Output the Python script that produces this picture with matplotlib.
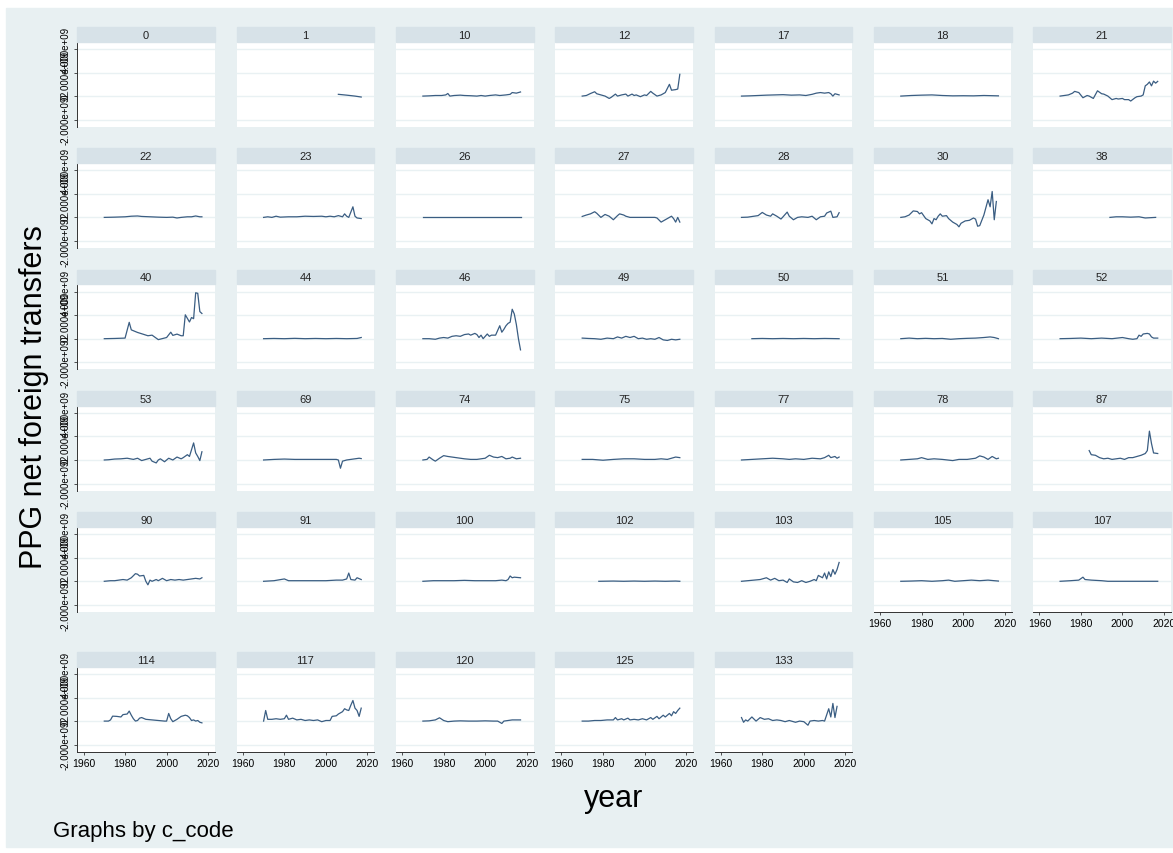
import numpy as np
import matplotlib
matplotlib.use('Agg')
import matplotlib.pyplot as plt
from matplotlib.patches import Rectangle

plt.rcParams['font.family'] = ['Liberation Sans', 'DejaVu Sans']

# panel order (c_code), 7 panels per row
codes = [0, 1, 10, 12, 17, 18, 21,
         22, 23, 26, 27, 28, 30, 38,
         40, 44, 46, 49, 50, 51, 52,
         53, 69, 74, 75, 77, 78, 87,
         90, 91, 100, 102, 103, 105, 107,
         114, 117, 120, 125, 133]

# PPG net foreign transfers, billions (years / values)
yr_0 = []
v_0 = []
yr_1 = [2006, 2010, 2014, 2017]
v_1 = [0.15, 0.08, 0.0, -0.08]
yr_10 = [1970, 1973, 1976, 1979, 1981, 1982, 1983, 1985, 1988, 1990, 1993, 1996, 1998, 2000, 2002, 2005, 2007, 2010, 2012, 2013, 2015, 2016, 2017]
v_10 = [0.0, 0.02, 0.05, 0.05, 0.1, 0.22, 0.0, 0.05, 0.08, 0.05, 0.03, 0.0, 0.05, 0.0, 0.05, 0.1, 0.05, 0.1, 0.15, 0.3, 0.25, 0.3, 0.35]
yr_12 = [1970, 1972, 1974, 1976, 1977, 1979, 1981, 1983, 1984, 1986, 1987, 1989, 1991, 1992, 1994, 1995, 1996, 1998, 2000, 2001, 2003, 2004, 2006, 2008, 2010, 2012, 2013, 2015, 2016, 2017]
v_12 = [0.0, 0.05, 0.22, 0.37, 0.2, 0.1, 0.0, -0.2, -0.1, 0.17, 0.0, 0.1, 0.17, 0.0, 0.17, 0.05, 0.1, -0.05, 0.1, 0.05, 0.4, 0.25, 0.0, 0.1, 0.3, 1.0, 0.5, 0.55, 0.6, 1.85]
yr_17 = [1970, 1974, 1978, 1982, 1986, 1990, 1994, 1998, 2001, 2004, 2006, 2008, 2010, 2012, 2013, 2014, 2015, 2017]
v_17 = [0.0, 0.02, 0.05, 0.08, 0.1, 0.12, 0.08, 0.1, 0.05, 0.15, 0.25, 0.3, 0.25, 0.3, 0.2, 0.0, 0.2, 0.1]
yr_18 = [1970, 1975, 1980, 1985, 1990, 1995, 2000, 2005, 2010, 2017]
v_18 = [0.0, 0.05, 0.08, 0.1, 0.05, 0.02, 0.03, 0.02, 0.05, 0.02]
yr_21 = [1970, 1972, 1974, 1976, 1977, 1979, 1981, 1983, 1984, 1986, 1988, 1990, 1991, 1993, 1995, 1997, 1998, 2000, 2001, 2003, 2004, 2006, 2007, 2009, 2010, 2011, 2012, 2013, 2014, 2015, 2016, 2017]
v_21 = [0.0, 0.05, 0.1, 0.25, 0.4, 0.3, -0.14, 0.05, 0.0, -0.2, 0.45, 0.2, 0.17, 0.0, -0.3, -0.2, -0.25, -0.2, -0.3, -0.3, -0.42, -0.15, -0.05, 0.0, 0.1, 0.87, 1.0, 1.2, 0.87, 1.27, 1.1, 1.25]

yr_22 = [1970, 1975, 1980, 1983, 1986, 1988, 1992, 1996, 2000, 2003, 2005, 2007, 2010, 2012, 2014, 2016, 2017]
v_22 = [0.0, 0.02, 0.05, 0.1, 0.12, 0.08, 0.05, 0.02, 0.0, 0.02, -0.05, 0.0, 0.05, 0.05, 0.12, 0.05, 0.05]
yr_23 = [1970, 1972, 1974, 1976, 1978, 1982, 1986, 1990, 1994, 1998, 2000, 2002, 2004, 2006, 2008, 2009, 2010, 2011, 2013, 2014, 2015, 2017]
v_23 = [0.0, 0.05, 0.0, 0.1, 0.02, 0.05, 0.05, 0.1, 0.08, 0.1, 0.05, 0.1, 0.05, 0.15, 0.05, 0.3, 0.1, 0.0, 0.9, 0.1, -0.05, -0.1]
yr_26 = [1970, 1980, 1990, 2000, 2010, 2017]
v_26 = [0.0, 0.0, 0.0, 0.0, 0.0, 0.0]
yr_27 = [1970, 1972, 1974, 1976, 1977, 1979, 1981, 1983, 1985, 1987, 1988, 1990, 1991, 1993, 1997, 2001, 2005, 2006, 2008, 2009, 2011, 2013, 2014, 2015, 2016, 2017]
v_27 = [0.08, 0.2, 0.3, 0.48, 0.35, 0.0, 0.25, 0.1, -0.2, 0.15, 0.3, 0.2, 0.1, 0.0, 0.0, 0.0, 0.0, -0.05, -0.4, -0.3, -0.1, 0.1, -0.1, -0.4, 0.0, -0.4]
yr_28 = [1970, 1973, 1976, 1978, 1980, 1982, 1984, 1985, 1987, 1989, 1990, 1992, 1993, 1995, 1997, 1999, 2002, 2004, 2006, 2008, 2010, 2011, 2013, 2014, 2016, 2017]
v_28 = [0.0, 0.02, 0.1, 0.15, 0.42, 0.2, 0.1, 0.3, 0.1, -0.14, 0.05, 0.45, 0.1, -0.2, 0.0, 0.05, 0.0, 0.1, -0.2, 0.05, 0.1, 0.37, 0.53, 0.0, 0.05, 0.4]
yr_30 = [1970, 1972, 1974, 1976, 1978, 1979, 1980, 1982, 1984, 1985, 1986, 1987, 1988, 1989, 1990, 1992, 1993, 1995, 1997, 1998, 1999, 2001, 2003, 2005, 2006, 2007, 2008, 2010, 2012, 2013, 2014, 2015, 2016]
v_30 = [0.0, 0.05, 0.2, 0.55, 0.5, 0.3, 0.4, -0.1, -0.3, -0.55, -0.1, -0.2, 0.1, 0.3, 0.1, 0.15, -0.1, -0.4, -0.6, -0.8, -0.5, -0.3, -0.25, -0.05, -0.15, -0.75, -0.7, 0.2, 1.5, 0.9, 2.2, -0.2, 1.35]
yr_38 = [1994, 1997, 2000, 2004, 2008, 2011, 2014, 2016]
v_38 = [0.0, 0.05, 0.05, 0.02, 0.05, -0.05, -0.02, 0.0]

yr_40 = [1970, 1975, 1980, 1982, 1983, 1986, 1988, 1991, 1993, 1996, 2000, 2002, 2003, 2005, 2007, 2008, 2009, 2011, 2012, 2013, 2014, 2015, 2016, 2017]
v_40 = [0.0, 0.02, 0.05, 1.39, 0.75, 0.53, 0.42, 0.25, 0.3, -0.08, 0.1, 0.55, 0.28, 0.39, 0.25, 0.25, 2.03, 1.42, 1.8, 1.7, 3.9, 3.85, 2.3, 2.14]
yr_44 = [1970, 1975, 1980, 1985, 1990, 1995, 2000, 2005, 2010, 2015, 2017]
v_44 = [0.0, 0.02, 0.0, 0.03, 0.0, 0.02, 0.0, 0.02, 0.0, 0.02, 0.1]
yr_46 = [1970, 1973, 1976, 1978, 1980, 1982, 1984, 1986, 1988, 1990, 1992, 1993, 1995, 1996, 1997, 1998, 1999, 2001, 2002, 2003, 2005, 2007, 2008, 2009, 2010, 2011, 2012, 2013, 2014, 2015, 2016, 2017]
v_46 = [0.0, 0.0, -0.05, 0.05, 0.1, 0.05, 0.2, 0.25, 0.2, 0.35, 0.4, 0.3, 0.45, 0.35, 0.1, 0.3, 0.0, 0.4, 0.2, 0.3, 0.3, 1.1, 0.55, 0.8, 1.1, 1.3, 1.4, 2.5, 2.1, 1.2, 0.0, -0.95]
yr_49 = [1970, 1973, 1976, 1979, 1982, 1985, 1987, 1989, 1991, 1993, 1995, 1997, 1999, 2001, 2003, 2005, 2007, 2009, 2011, 2013, 2015, 2017]
v_49 = [0.05, 0.02, 0.0, -0.05, 0.05, 0.0, 0.15, 0.05, 0.2, 0.1, 0.2, 0.0, 0.05, -0.05, 0.0, -0.05, 0.1, -0.1, -0.15, -0.05, -0.1, -0.05]
yr_50 = [1975, 1980, 1985, 1990, 1995, 2000, 2005, 2010, 2017]
v_50 = [0.0, 0.02, 0.0, 0.02, 0.0, 0.02, 0.0, 0.02, 0.0]
yr_51 = [1970, 1974, 1978, 1982, 1986, 1990, 1994, 1998, 2002, 2006, 2010, 2013, 2015, 2017]
v_51 = [0.0, 0.05, 0.0, 0.03, 0.0, 0.02, -0.05, 0.0, 0.03, 0.05, 0.1, 0.15, 0.1, 0.0]
yr_52 = [1970, 1975, 1980, 1985, 1990, 1995, 2000, 2003, 2005, 2007, 2008, 2009, 2010, 2012, 2013, 2014, 2015, 2017]
v_52 = [0.0, 0.02, 0.05, 0.0, 0.05, 0.0, 0.1, 0.0, -0.05, 0.0, 0.3, 0.2, 0.4, 0.45, 0.4, 0.15, 0.05, 0.05]

yr_53 = [1970, 1972, 1975, 1978, 1981, 1984, 1986, 1988, 1990, 1992, 1993, 1995, 1996, 1997, 1999, 2001, 2003, 2005, 2007, 2008, 2010, 2011, 2013, 2014, 2015, 2016, 2017]
v_53 = [0.0, 0.02, 0.08, 0.1, 0.15, 0.05, 0.15, -0.05, 0.05, 0.15, -0.1, -0.25, 0.0, 0.1, -0.15, 0.15, 0.0, 0.25, 0.1, 0.2, 0.45, 0.3, 1.45, 0.6, 0.3, -0.05, 0.7]
yr_69 = [1970, 1975, 1980, 1985, 1990, 1995, 2000, 2005, 2006, 2007, 2008, 2010, 2012, 2014, 2016, 2017]
v_69 = [0.0, 0.05, 0.08, 0.05, 0.05, 0.05, 0.05, 0.05, 0.0, -0.7, -0.1, 0.0, 0.05, 0.1, 0.15, 0.12]
yr_74 = [1970, 1972, 1973, 1975, 1976, 1978, 1980, 1982, 1984, 1986, 1988, 1990, 1993, 1996, 1998, 2000, 2002, 2004, 2006, 2008, 2010, 2012, 2013, 2015, 2017]
v_74 = [0.0, 0.05, 0.25, 0.0, -0.1, 0.15, 0.37, 0.3, 0.25, 0.2, 0.15, 0.1, 0.05, 0.05, 0.1, 0.15, 0.4, 0.25, 0.2, 0.3, 0.1, 0.15, 0.25, 0.1, 0.15]
yr_75 = [1970, 1975, 1980, 1985, 1990, 1995, 2000, 2005, 2008, 2011, 2013, 2015, 2017]
v_75 = [0.05, 0.05, -0.02, 0.05, 0.1, 0.1, 0.05, 0.05, 0.1, 0.05, 0.15, 0.25, 0.2]
yr_77 = [1970, 1975, 1980, 1985, 1990, 1993, 1996, 2000, 2004, 2008, 2010, 2012, 2013, 2015, 2016, 2017]
v_77 = [0.0, 0.05, 0.1, 0.15, 0.1, 0.05, 0.1, 0.05, 0.15, 0.1, 0.2, 0.4, 0.2, 0.3, 0.15, 0.25]
yr_78 = [1970, 1974, 1978, 1980, 1983, 1986, 1990, 1995, 1998, 2002, 2006, 2008, 2010, 2012, 2014, 2016, 2017]
v_78 = [0.0, 0.05, 0.1, 0.2, 0.05, 0.1, 0.05, -0.05, 0.05, 0.05, 0.15, 0.35, 0.25, 0.05, 0.3, 0.1, 0.15]
yr_87 = [1984, 1985, 1987, 1989, 1991, 1993, 1995, 1997, 1999, 2001, 2003, 2005, 2007, 2009, 2011, 2012, 2013, 2014, 2015, 2017]
v_87 = [0.8, 0.45, 0.4, 0.2, 0.1, 0.15, 0.05, 0.1, 0.15, 0.05, 0.2, 0.2, 0.3, 0.4, 0.55, 0.8, 2.45, 1.4, 0.6, 0.55]

yr_90 = [1970, 1973, 1975, 1977, 1979, 1981, 1983, 1985, 1986, 1987, 1989, 1990, 1991, 1992, 1993, 1995, 1996, 1998, 2000, 2002, 2004, 2006, 2008, 2010, 2012, 2014, 2016, 2017]
v_90 = [0.0, 0.05, 0.05, 0.1, 0.15, 0.1, 0.3, 0.65, 0.6, 0.45, 0.5, 0.0, -0.3, 0.1, 0.0, 0.15, 0.05, 0.25, 0.05, 0.15, 0.1, 0.15, 0.1, 0.15, 0.2, 0.25, 0.2, 0.3]
yr_91 = [1970, 1975, 1980, 1982, 1985, 1990, 1995, 2000, 2005, 2008, 2010, 2011, 2012, 2014, 2015, 2017]
v_91 = [0.0, 0.05, 0.2, 0.05, 0.05, 0.05, 0.05, 0.05, 0.1, 0.1, 0.2, 0.7, 0.15, 0.1, 0.3, 0.15]
yr_100 = [1970, 1975, 1980, 1985, 1990, 1995, 2000, 2005, 2008, 2010, 2011, 2012, 2013, 2014, 2017]
v_100 = [0.0, 0.05, 0.05, 0.05, 0.08, 0.05, 0.05, 0.05, 0.1, 0.05, 0.15, 0.45, 0.3, 0.35, 0.3]
yr_102 = [1978, 1985, 1990, 1995, 2000, 2005, 2010, 2015, 2017]
v_102 = [0.0, 0.02, 0.0, 0.02, 0.0, 0.02, 0.0, 0.02, 0.0]
yr_103 = [1970, 1973, 1976, 1979, 1982, 1984, 1986, 1988, 1990, 1992, 1993, 1995, 1997, 1999, 2001, 2003, 2005, 2006, 2007, 2009, 2010, 2011, 2012, 2013, 2014, 2015, 2016, 2017]
v_103 = [0.0, 0.05, 0.1, 0.15, 0.3, 0.1, 0.25, 0.05, 0.1, -0.1, 0.2, -0.05, -0.1, 0.05, -0.1, 0.0, 0.15, 0.05, 0.5, 0.3, 0.7, 0.2, 0.8, 0.4, 1.0, 0.6, 1.0, 1.6]
yr_105 = [1970, 1975, 1980, 1985, 1990, 1993, 1996, 2000, 2004, 2008, 2012, 2015, 2017]
v_105 = [0.0, 0.02, 0.05, 0.0, 0.05, 0.1, 0.0, 0.05, 0.1, 0.05, 0.1, 0.05, 0.02]
yr_107 = [1970, 1975, 1979, 1981, 1982, 1985, 1990, 1993, 2000, 2010, 2017]
v_107 = [0.0, 0.05, 0.1, 0.35, 0.15, 0.1, 0.05, 0.0, 0.0, 0.0, 0.0]

yr_114 = [1970, 1972, 1973, 1974, 1976, 1978, 1979, 1981, 1982, 1983, 1984, 1985, 1986, 1987, 1988, 1990, 1993, 1996, 1999, 2000, 2001, 2002, 2003, 2005, 2007, 2009, 2010, 2011, 2012, 2013, 2014, 2015, 2016, 2017]
v_114 = [0.0, 0.0, 0.1, 0.42, 0.4, 0.35, 0.55, 0.6, 0.85, 0.5, 0.2, 0.0, 0.05, 0.25, 0.3, 0.15, 0.1, 0.05, 0.0, 0.0, 0.65, 0.2, -0.05, 0.15, 0.4, 0.5, 0.45, 0.3, 0.05, 0.1, 0.0, 0.05, -0.1, -0.15]
yr_117 = [1970, 1971, 1972, 1974, 1976, 1978, 1980, 1981, 1982, 1984, 1986, 1988, 1990, 1992, 1994, 1996, 1998, 2000, 2002, 2003, 2005, 2006, 2008, 2009, 2010, 2011, 2012, 2013, 2014, 2015, 2016, 2017]
v_117 = [0.0, 0.9, 0.15, 0.15, 0.2, 0.15, 0.2, 0.5, 0.15, 0.25, 0.1, 0.15, 0.05, 0.1, 0.05, 0.1, -0.05, 0.05, 0.05, 0.4, 0.45, 0.6, 0.8, 1.05, 0.95, 0.9, 1.35, 1.75, 1.1, 0.9, 0.4, 1.1]
yr_120 = [1970, 1973, 1976, 1978, 1980, 1982, 1985, 1988, 1992, 1996, 2000, 2004, 2006, 2008, 2009, 2011, 2013, 2015, 2017]
v_120 = [0.0, 0.02, 0.1, 0.28, 0.05, -0.05, 0.0, 0.02, 0.0, 0.0, 0.02, 0.0, 0.0, -0.2, 0.0, 0.05, 0.1, 0.1, 0.1]
yr_125 = [1970, 1973, 1976, 1979, 1982, 1985, 1986, 1987, 1989, 1990, 1992, 1993, 1995, 1997, 1999, 2001, 2003, 2004, 2006, 2007, 2009, 2010, 2012, 2013, 2014, 2015, 2016, 2017]
v_125 = [0.0, 0.0, 0.05, 0.05, 0.1, 0.1, 0.3, 0.1, 0.2, 0.1, 0.25, 0.1, 0.15, 0.1, 0.2, 0.1, 0.3, 0.15, 0.4, 0.2, 0.5, 0.35, 0.65, 0.45, 0.8, 0.65, 0.9, 1.1]
yr_133 = [1970, 1971, 1972, 1973, 1975, 1977, 1979, 1981, 1983, 1985, 1987, 1989, 1991, 1993, 1995, 1996, 1998, 2000, 2002, 2003, 2005, 2007, 2009, 2010, 2012, 2013, 2014, 2015, 2016]
v_133 = [0.3, -0.1, 0.1, 0.0, 0.35, 0.0, 0.3, 0.15, 0.2, 0.05, 0.1, 0.05, -0.05, 0.05, -0.05, -0.1, 0.0, -0.05, -0.35, 0.0, 0.05, 0.0, 0.05, 0.0, 1.05, 0.35, 1.5, 0.3, 1.25]

series = {c: (globals()['yr_%d' % c], globals()['v_%d' % c]) for c in codes}

y_ticks = [-2e9, 0, 2e9, 4e9]
y_ticklabels = ['-2.000e+09', '0', '2.000e+09', '4.000e+09']
x_ticks = [1960, 1980, 2000, 2020]

bg = '#e8f0f2'
strip = '#d7e2e8'
line_col = '#3a5d82'

W, H = 1173, 854
fig = plt.figure(figsize=(W / 100, H / 100), dpi=100, facecolor='white')
fig.add_artist(Rectangle((6 / W, 1 - 848 / H), 1 - 6 / W, (848 - 9) / H,
                         transform=fig.transFigure, color=bg, zorder=0))

pw, ph, hh = 137.7, 85.0, 14.7
for i, code in enumerate(codes):
    r, c = divmod(i, 7)
    left = 77.3 + 159.3 * c
    top = 28 + 121.3 * r + (18.5 if r == 5 else 0)
    # title strip
    fig.add_artist(Rectangle((left / W, 1 - (top + hh) / H), pw / W, hh / H,
                             transform=fig.transFigure, color=strip, zorder=1))
    fig.text((left + pw / 2) / W, 1 - (top + hh / 2 + 0.5) / H, str(code),
             ha='center', va='center', fontsize=8, color='#222222')

    ax = fig.add_axes([left / W, 1 - (top + hh + ph) / H, pw / W, ph / H])
    ax.set_facecolor('white')
    yrs, vals = series[code]
    if len(yrs):
        ax.plot(yrs, np.array(vals) * 1e9, color=line_col, lw=0.9)
    ax.set_xlim(1957, 2023.3)
    ax.set_ylim(-2.6e9, 4.62e9)
    ax.set_yticks(y_ticks)
    ax.set_xticks(x_ticks)
    ax.grid(axis='y', color='#e9f1f3', lw=1.0)
    ax.set_axisbelow(True)
    for s in ax.spines.values():
        s.set_visible(False)

    show_x = (r == 5) or (r == 4 and c >= 5)
    if c == 0:
        ax.spines['left'].set_visible(True)
        ax.spines['left'].set_color('#333333')
        ax.spines['left'].set_linewidth(0.7)
        ax.set_yticklabels(y_ticklabels, rotation=90, va='center', fontsize=7)
        ax.tick_params(axis='y', length=2.5, width=0.6, pad=2, color='#333333')
    else:
        ax.tick_params(axis='y', length=0, labelleft=False)
    if show_x:
        ax.spines['bottom'].set_visible(True)
        ax.spines['bottom'].set_color('#333333')
        ax.spines['bottom'].set_linewidth(0.7)
        ax.set_xticklabels([str(t) for t in x_ticks], fontsize=7.5)
        ax.tick_params(axis='x', length=2.5, width=0.6, pad=2, color='#333333')
    else:
        ax.tick_params(axis='x', length=0, labelbottom=False)

fig.text(42 / W, 1 - 397 / H, 'PPG net foreign transfers', rotation=90,
         rotation_mode='anchor', ha='center', va='baseline', fontsize=22)
fig.text(614 / W, 1 - 807 / H, 'year', ha='center', va='baseline', fontsize=22)
fig.text(53 / W, 1 - 837 / H, 'Graphs by c_code', ha='left', va='baseline', fontsize=16)

fig.savefig('out.png', dpi=100, facecolor='white')
